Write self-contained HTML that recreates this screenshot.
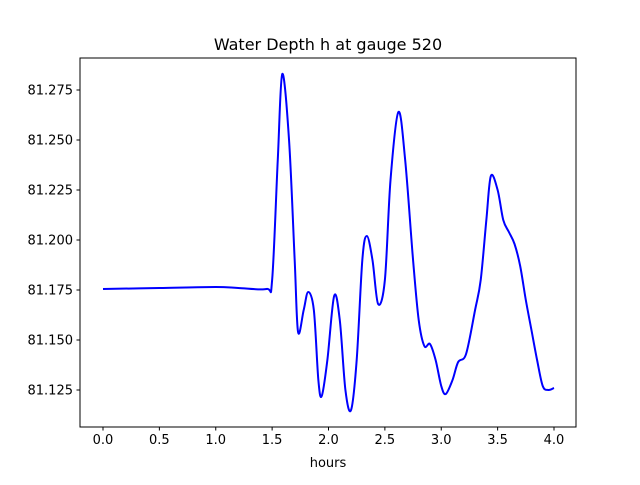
<!DOCTYPE html>
<html><head><meta charset="utf-8"><style>
body{margin:0;background:#fff;}
svg text{font-family:"DejaVu Sans","Liberation Sans",sans-serif;fill:#000;}
</style></head><body>
<svg width="640" height="480" viewBox="0 0 640 480">
<rect width="640" height="480" fill="#fff"/>
<text x="328" y="50" font-size="16" text-anchor="middle">Water Depth h at gauge 520</text>
<g id="axes"></g>
<path id="line" fill="none" stroke="#0000ff" stroke-width="2"/>
<rect x="80" y="58" width="496" height="369" fill="none" stroke="#000" stroke-width="1"/>
<text x="328" y="467" font-size="13" text-anchor="middle">hours</text>
</svg>
<script>
const hours=[0,0.5,1.0,1.2,1.45,1.5,1.55,1.59,1.65,1.7,1.73,1.78,1.82,1.87,1.91,1.94,1.99,2.05,2.1,2.15,2.2,2.25,2.3,2.34,2.39,2.44,2.5,2.55,2.62,2.68,2.75,2.8,2.85,2.9,2.95,3.0,3.04,3.1,3.15,3.22,3.3,3.35,3.4,3.44,3.5,3.55,3.6,3.65,3.7,3.75,3.8,3.85,3.9,3.95,4.0];
const depth=[81.1755,81.176,81.1765,81.176,81.1755,81.18,81.24,81.283,81.25,81.19,81.154,81.165,81.174,81.165,81.13,81.122,81.14,81.172,81.16,81.125,81.115,81.14,81.19,81.202,81.19,81.168,81.18,81.23,81.264,81.24,81.19,81.16,81.147,81.148,81.14,81.127,81.123,81.13,81.139,81.143,81.165,81.18,81.21,81.232,81.225,81.21,81.204,81.198,81.187,81.17,81.155,81.14,81.127,81.125,81.126];
const xTicks=[0,0.5,1.0,1.5,2.0,2.5,3.0,3.5,4.0];
const yTicks=[81.125,81.150,81.175,81.200,81.225,81.250,81.275];
const X=v=>103+v*112.75;
const Y=v=>390-(v-81.125)*2000;
const NS="http://www.w3.org/2000/svg";
const ax=document.getElementById('axes');
xTicks.forEach(t=>{
 const l=document.createElementNS(NS,'line');
 l.setAttribute('x1',X(t));l.setAttribute('x2',X(t));l.setAttribute('y1',427);l.setAttribute('y2',430.5);l.setAttribute('stroke','#000');
 
 
 ax.appendChild(l);
 const tx=document.createElementNS(NS,'text');
 tx.setAttribute('x',X(t));tx.setAttribute('y',444);tx.setAttribute('font-size','13');tx.setAttribute('text-anchor','middle');
 tx.textContent=t.toFixed(1);
 
 
 ax.appendChild(tx);
});
yTicks.forEach(t=>{
 const l=document.createElementNS(NS,'line');
 l.setAttribute('x1',76.5);l.setAttribute('x2',80);l.setAttribute('y1',Y(t));l.setAttribute('y2',Y(t));l.setAttribute('stroke','#000');
 
 
 ax.appendChild(l);
 const tx=document.createElementNS(NS,'text');
 tx.setAttribute('x',73);tx.setAttribute('y',Y(t)+4.5);tx.setAttribute('font-size','13');tx.setAttribute('text-anchor','end');
 tx.textContent=t.toFixed(3);
 
 
 ax.appendChild(tx);
});
const P=hours.map((h,i)=>[X(h),Y(depth[i])]);
let d='M'+P[0][0]+','+P[0][1];
for(let i=0;i<P.length-1;i++){
 const p0=P[Math.max(i-1,0)],p1=P[i],p2=P[i+1],p3=P[Math.min(i+2,P.length-1)];
 const c1=[p1[0]+(p2[0]-p0[0])/6,p1[1]+(p2[1]-p0[1])/6];
 const c2=[p2[0]-(p3[0]-p1[0])/6,p2[1]-(p3[1]-p1[1])/6];
 d+=' C'+c1+' '+c2+' '+p2;
}
document.getElementById('line').setAttribute('d',d);
</script>
</body></html>
